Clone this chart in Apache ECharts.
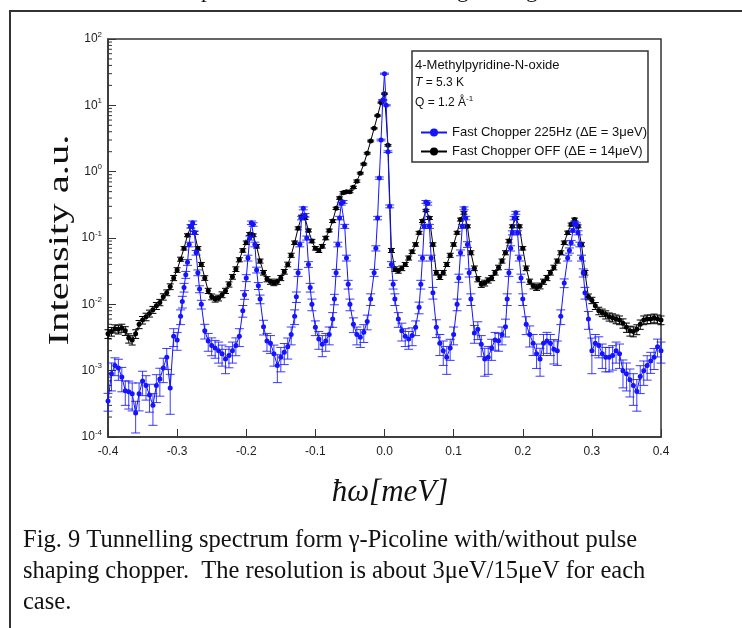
<!DOCTYPE html>
<html>
<head>
<meta charset="utf-8">
<script src="https://cdn.jsdelivr.net/npm/echarts@6/dist/echarts.min.js"></script>
<style>
  html, body { margin: 0; padding: 0; background: #fff; }
  #chart { width: 742px; height: 628px; }
</style>
</head>
<body>
<div id="chart"></div>
<script>
/* ── data ── */

// Fast Chopper 225Hz (blue): energy, intensity, relative error
const energyOn = [
  -0.400, -0.395, -0.390, -0.385, -0.380, -0.375, -0.370, -0.365, -0.360, -0.355,
  -0.350, -0.345, -0.340, -0.335, -0.330, -0.325, -0.320, -0.315, -0.310, -0.305,
  -0.300, -0.295, -0.2925, -0.290, -0.2875, -0.285, -0.2825, -0.280, -0.2775, -0.275,
  -0.2725, -0.270, -0.2675, -0.265, -0.260, -0.255, -0.250, -0.245, -0.240, -0.235,
  -0.230, -0.225, -0.220, -0.215, -0.210, -0.205, -0.2025, -0.200, -0.1975, -0.195,
  -0.1925, -0.190, -0.1875, -0.185, -0.1825, -0.180, -0.175, -0.170, -0.165, -0.160,
  -0.155, -0.150, -0.145, -0.140, -0.135, -0.130, -0.1275, -0.125, -0.1225, -0.120,
  -0.1175, -0.115, -0.1125, -0.110, -0.1075, -0.105, -0.100, -0.095, -0.090, -0.085,
  -0.080, -0.075, -0.0725, -0.070, -0.0675, -0.065, -0.0625, -0.060, -0.0575, -0.055,
  -0.0525, -0.050, -0.045, -0.040, -0.035, -0.030, -0.025, -0.020, -0.015, -0.0125,
  -0.010, -0.0075, -0.005, -0.0025, 0.000, 0.0025, 0.005, 0.0075, 0.010, 0.0125,
  0.015, 0.020, 0.025, 0.030, 0.035, 0.040, 0.045, 0.050, 0.0525, 0.055,
  0.0575, 0.060, 0.0625, 0.065, 0.0675, 0.070, 0.075, 0.080, 0.085, 0.090,
  0.095, 0.100, 0.105, 0.1075, 0.110, 0.1125, 0.115, 0.1175, 0.120, 0.1225,
  0.125, 0.130, 0.135, 0.140, 0.145, 0.150, 0.155, 0.160, 0.165, 0.170,
  0.175, 0.1775, 0.180, 0.1825, 0.185, 0.1875, 0.190, 0.1925, 0.195, 0.1975,
  0.200, 0.205, 0.210, 0.215, 0.220, 0.225, 0.230, 0.235, 0.240, 0.245,
  0.250, 0.255, 0.260, 0.265, 0.2675, 0.270, 0.2725, 0.275, 0.2775, 0.280,
  0.2825, 0.285, 0.2875, 0.290, 0.295, 0.300, 0.305, 0.310, 0.315, 0.320,
  0.325, 0.330, 0.335, 0.340, 0.345, 0.350, 0.355, 0.360, 0.365, 0.370,
  0.375, 0.380, 0.385, 0.390, 0.395, 0.400
];
const chopperOn = [
  0.00035, 0.0009, 0.0012, 0.0011, 0.0008, 0.0005, 0.00048, 0.00045, 0.00023, 0.00045,
  0.0007, 0.0006, 0.00043, 0.0003, 0.0006, 0.00075, 0.0011, 0.0016, 0.00055, 0.0033,
  0.0029, 0.0066, 0.011, 0.018, 0.028, 0.043, 0.08, 0.15, 0.17, 0.12,
  0.06, 0.03, 0.017, 0.01, 0.004, 0.0028, 0.0024, 0.0022, 0.002, 0.0018,
  0.0015, 0.0017, 0.002, 0.0024, 0.0033, 0.008, 0.014, 0.025, 0.05, 0.1,
  0.17, 0.16, 0.08, 0.033, 0.019, 0.012, 0.0046, 0.0028, 0.0026, 0.0018,
  0.0012, 0.0016, 0.0019, 0.0023, 0.0035, 0.0066, 0.013, 0.03, 0.08, 0.2,
  0.28, 0.22, 0.1, 0.04, 0.018, 0.01, 0.0045, 0.003, 0.0025, 0.0028,
  0.0035, 0.006, 0.012, 0.03, 0.08, 0.2, 0.33, 0.35, 0.15, 0.05,
  0.02, 0.01, 0.005, 0.0035, 0.0032, 0.0038, 0.0055, 0.012, 0.03, 0.07,
  0.2, 0.8, 3, 12, 30, 10, 2, 0.3, 0.04, 0.02,
  0.012, 0.006, 0.004, 0.0033, 0.003, 0.0034, 0.0045, 0.009, 0.02, 0.05,
  0.15, 0.35, 0.33, 0.15, 0.05, 0.015, 0.0045, 0.0026, 0.002, 0.0016,
  0.0022, 0.0035, 0.01, 0.025, 0.06, 0.15, 0.28, 0.2, 0.08, 0.03,
  0.012, 0.0037, 0.0042, 0.0025, 0.0015, 0.0016, 0.0022, 0.0029, 0.0028, 0.0035,
  0.0046, 0.012, 0.03, 0.07, 0.12, 0.2, 0.24, 0.12, 0.05, 0.025,
  0.012, 0.005, 0.0035, 0.0026, 0.0018, 0.0015, 0.0026, 0.0028, 0.0026, 0.0021,
  0.002, 0.0066, 0.021, 0.05, 0.065, 0.085, 0.13, 0.17, 0.16, 0.12,
  0.08, 0.05, 0.03, 0.015, 0.006, 0.002, 0.0026, 0.0024, 0.0018, 0.0016,
  0.0016, 0.0017, 0.002, 0.0018, 0.001, 0.0009, 0.00073, 0.0006, 0.00049, 0.00082,
  0.001, 0.0012, 0.0014, 0.0016, 0.0023, 0.002
];
const chopperOnErr = [
  0.3, 0.45, 0.3, 0.35, 0.4, 0.4, 0.45, 0.45, 0.5, 0.45,
  0.4, 0.4, 0.45, 0.5, 0.45, 0.45, 0.4, 0.35, 0.6, 0.3,
  0.3, 0.25, 0.2, 0.15, 0.12, 0.1, 0.08, 0.06, 0.06, 0.06,
  0.08, 0.1, 0.12, 0.15, 0.25, 0.3, 0.3, 0.3, 0.35, 0.35,
  0.4, 0.35, 0.35, 0.3, 0.3, 0.2, 0.15, 0.12, 0.1, 0.07,
  0.06, 0.06, 0.08, 0.1, 0.12, 0.15, 0.25, 0.3, 0.3, 0.35,
  0.45, 0.4, 0.35, 0.35, 0.3, 0.25, 0.18, 0.12, 0.08, 0.06,
  0.05, 0.06, 0.07, 0.1, 0.15, 0.2, 0.25, 0.3, 0.35, 0.3,
  0.3, 0.25, 0.18, 0.12, 0.08, 0.06, 0.05, 0.05, 0.07, 0.1,
  0.15, 0.2, 0.25, 0.3, 0.3, 0.3, 0.25, 0.2, 0.12, 0.09,
  0.06, 0.04, 0.03, 0.02, 0.02, 0.02, 0.03, 0.05, 0.1, 0.15,
  0.2, 0.25, 0.3, 0.3, 0.3, 0.3, 0.25, 0.2, 0.15, 0.1,
  0.07, 0.05, 0.05, 0.07, 0.1, 0.2, 0.3, 0.35, 0.4, 0.45,
  0.35, 0.3, 0.2, 0.14, 0.1, 0.07, 0.05, 0.06, 0.1, 0.14,
  0.2, 0.3, 0.3, 0.35, 0.45, 0.45, 0.35, 0.3, 0.3, 0.3,
  0.3, 0.2, 0.12, 0.09, 0.07, 0.06, 0.05, 0.07, 0.1, 0.14,
  0.2, 0.3, 0.35, 0.35, 0.4, 0.45, 0.35, 0.35, 0.35, 0.4,
  0.4, 0.25, 0.15, 0.1, 0.09, 0.08, 0.06, 0.05, 0.06, 0.07,
  0.08, 0.1, 0.14, 0.2, 0.3, 0.55, 0.35, 0.35, 0.4, 0.4,
  0.4, 0.4, 0.35, 0.4, 0.45, 0.45, 0.45, 0.5, 0.5, 0.45,
  0.4, 0.4, 0.35, 0.35, 0.3, 0.35
];

// Fast Chopper OFF (black): energy, intensity, relative error
const energyOff = [
  -0.400, -0.395, -0.390, -0.385, -0.380, -0.375, -0.370, -0.365, -0.360, -0.355,
  -0.350, -0.345, -0.340, -0.335, -0.330, -0.325, -0.320, -0.315, -0.310, -0.305,
  -0.300, -0.295, -0.290, -0.285, -0.280, -0.275, -0.270, -0.265, -0.260, -0.255,
  -0.250, -0.245, -0.240, -0.235, -0.230, -0.225, -0.220, -0.215, -0.210, -0.205,
  -0.200, -0.195, -0.190, -0.185, -0.180, -0.175, -0.170, -0.165, -0.160, -0.155,
  -0.150, -0.145, -0.140, -0.135, -0.130, -0.125, -0.120, -0.115, -0.110, -0.105,
  -0.100, -0.095, -0.090, -0.085, -0.080, -0.075, -0.070, -0.065, -0.060, -0.055,
  -0.050, -0.045, -0.040, -0.035, -0.030, -0.025, -0.020, -0.015, -0.010, -0.005,
  0.000, 0.005, 0.010, 0.015, 0.020, 0.025, 0.030, 0.035, 0.040, 0.045,
  0.050, 0.055, 0.060, 0.065, 0.070, 0.075, 0.080, 0.085, 0.090, 0.095,
  0.100, 0.105, 0.110, 0.115, 0.120, 0.125, 0.130, 0.135, 0.140, 0.145,
  0.150, 0.155, 0.160, 0.165, 0.170, 0.175, 0.180, 0.185, 0.190, 0.195,
  0.200, 0.205, 0.210, 0.215, 0.220, 0.225, 0.230, 0.235, 0.240, 0.245,
  0.250, 0.255, 0.260, 0.265, 0.270, 0.275, 0.280, 0.285, 0.290, 0.295,
  0.300, 0.305, 0.310, 0.315, 0.320, 0.325, 0.330, 0.335, 0.340, 0.345,
  0.350, 0.355, 0.360, 0.365, 0.370, 0.375, 0.380, 0.385, 0.390, 0.395,
  0.400
];
const chopperOff = [
  0.0036, 0.0039, 0.0043, 0.0042, 0.0044, 0.0040, 0.0031, 0.0029, 0.0036, 0.0050,
  0.0058, 0.0065, 0.0073, 0.0083, 0.0095, 0.0107, 0.013, 0.015, 0.0185, 0.025,
  0.033, 0.048, 0.07, 0.11, 0.15, 0.12, 0.07, 0.04, 0.025, 0.016,
  0.013, 0.012, 0.0125, 0.014, 0.016, 0.02, 0.026, 0.034, 0.047, 0.065,
  0.085, 0.115, 0.11, 0.075, 0.045, 0.03, 0.024, 0.022, 0.021, 0.022,
  0.025, 0.031, 0.04, 0.055, 0.085, 0.14, 0.21, 0.2, 0.13, 0.09,
  0.07, 0.065, 0.075, 0.1, 0.13, 0.18, 0.28, 0.4, 0.48, 0.5,
  0.5, 0.58, 0.72, 0.95, 1.3, 1.9, 2.9, 4.5, 7, 11,
  15, 2.5, 0.065, 0.034, 0.032, 0.035, 0.04, 0.05, 0.062, 0.08,
  0.12, 0.18, 0.26, 0.2, 0.08, 0.03, 0.026, 0.03, 0.04, 0.055,
  0.08, 0.12, 0.19, 0.24, 0.15, 0.06, 0.035, 0.024, 0.02, 0.021,
  0.023, 0.025, 0.03, 0.036, 0.045, 0.06, 0.09, 0.15, 0.2, 0.15,
  0.07, 0.035, 0.022, 0.019, 0.018, 0.019, 0.022, 0.025, 0.03, 0.036,
  0.045, 0.06, 0.085, 0.12, 0.16, 0.19, 0.15, 0.08, 0.03, 0.013,
  0.0115, 0.0095, 0.008, 0.0075, 0.007, 0.0065, 0.0063, 0.006, 0.0058, 0.0052,
  0.0045, 0.004, 0.0039, 0.0042, 0.005, 0.0058, 0.006, 0.006, 0.0062, 0.006,
  0.0058
];
const chopperOffErr = [
  0.15, 0.15, 0.14, 0.15, 0.14, 0.15, 0.16, 0.16, 0.15, 0.14,
  0.13, 0.13, 0.12, 0.12, 0.12, 0.11, 0.11, 0.1, 0.1, 0.09,
  0.08, 0.07, 0.06, 0.05, 0.05, 0.05, 0.06, 0.07, 0.08, 0.09,
  0.1, 0.1, 0.1, 0.1, 0.09, 0.09, 0.08, 0.08, 0.07, 0.06,
  0.06, 0.05, 0.05, 0.06, 0.07, 0.08, 0.09, 0.09, 0.09, 0.09,
  0.09, 0.08, 0.08, 0.07, 0.06, 0.05, 0.05, 0.05, 0.05, 0.06,
  0.06, 0.07, 0.06, 0.06, 0.05, 0.05, 0.04, 0.04, 0.04, 0.04,
  0.04, 0.04, 0.04, 0.03, 0.03, 0.03, 0.03, 0.02, 0.02, 0.02,
  0.02, 0.03, 0.07, 0.08, 0.08, 0.08, 0.07, 0.07, 0.06, 0.06,
  0.05, 0.05, 0.04, 0.05, 0.06, 0.08, 0.09, 0.08, 0.07, 0.07,
  0.06, 0.05, 0.05, 0.05, 0.05, 0.07, 0.08, 0.09, 0.1, 0.1,
  0.09, 0.09, 0.08, 0.08, 0.07, 0.07, 0.06, 0.05, 0.05, 0.05,
  0.06, 0.08, 0.09, 0.1, 0.1, 0.1, 0.09, 0.09, 0.08, 0.08,
  0.07, 0.07, 0.06, 0.06, 0.05, 0.05, 0.05, 0.06, 0.08, 0.1,
  0.11, 0.12, 0.13, 0.13, 0.14, 0.14, 0.14, 0.15, 0.15, 0.16,
  0.16, 0.17, 0.17, 0.17, 0.16, 0.15, 0.15, 0.15, 0.15, 0.15,
  0.15
];

const NAME_ON = "Fast Chopper 225Hz (\u0394E = 3\u03bceV)";
const NAME_OFF = "Fast Chopper OFF (\u0394E = 14\u03bceV)";
const BLUE = "#1414ff";
const BLUE_ERR = "rgba(25,25,255,0.85)";
const BLACK = "#000";

const SANS = '"Liberation Sans", Arial, sans-serif';
const SERIF = '"Liberation Serif", "Times New Roman", serif';

/* ── helpers ── */
const pairs = (xs, vals) => xs.map((x, i) => [x, vals[i]]);
const errRows = (xs, vals, errs) => xs.map((x, i) => [x, vals[i] * (1 - errs[i]), vals[i] * (1 + errs[i])]);

function errorBars(color, cap) {
  return function (params, api) {
    const x = api.value(0);
    const top = api.coord([x, api.value(2)]);
    const bot = api.coord([x, api.value(1)]);
    const st = { stroke: color, lineWidth: 1 };
    return {
      type: "group",
      children: [
        { type: "line", shape: { x1: top[0], y1: top[1], x2: bot[0], y2: bot[1] }, style: st },
        { type: "line", shape: { x1: top[0] - cap, y1: top[1], x2: top[0] + cap, y2: top[1] }, style: st },
        { type: "line", shape: { x1: bot[0] - cap, y1: bot[1], x2: bot[0] + cap, y2: bot[1] }, style: st },
      ],
    };
  };
}

// log-spaced minor ticks on the intensity axis (2..9 x 10^n)
const minorTicks = [];
for (let e = -4; e < 2; e++) for (let m = 2; m <= 9; m++) minorTicks.push([-0.4, m * Math.pow(10, e)]);

const chart = echarts.init(document.getElementById("chart"));

chart.setOption({
  animation: false,
  backgroundColor: "#fff",
  grid: { left: 108, right: 81, top: 39, bottom: 191, show: true, borderColor: "#333", borderWidth: 1.5 },
  legend: {
    data: [NAME_ON, NAME_OFF],
    orient: "vertical",
    left: 415, top: 121, z: 20,
    itemWidth: 26, itemHeight: 10, itemGap: 6,
    selectedMode: false,
    textStyle: { fontFamily: SANS, fontSize: 13, color: "#111" },
  },
  xAxis: {
    type: "value", min: -0.4, max: 0.4, interval: 0.1,
    axisLine: { show: true, onZero: false, lineStyle: { color: "#333", width: 1.5 } },
    axisTick: { inside: true, length: 8, lineStyle: { color: "#333" } },
    axisLabel: { fontFamily: SANS, fontSize: 12, color: "#222", margin: 9, formatter: (v) => v.toFixed(1) },
    splitLine: { show: false },
  },
  yAxis: {
    type: "log", logBase: 10, min: 1e-4, max: 100, interval: 1,
    axisLine: { show: true, onZero: false, lineStyle: { color: "#333", width: 1.5 } },
    axisTick: { inside: true, length: 8, lineStyle: { color: "#333" } },
    axisLabel: {
      margin: 6,
      formatter: (v) => "{b|10}{s|" + Math.round(Math.log10(v)) + "}",
      rich: {
        b: { fontFamily: SANS, fontSize: 12, color: "#222" },
        s: { fontFamily: SANS, fontSize: 8, color: "#222", padding: [0, 0, 9, 0] },
      },
    },
    splitLine: { show: false },
  },
  series: [
    {
      type: "custom", silent: true, z: 1,
      renderItem: (params, api) => {
        const p = api.coord([api.value(0), api.value(1)]);
        return { type: "line", shape: { x1: p[0], y1: p[1], x2: p[0] + 4, y2: p[1] }, style: { stroke: "#333", lineWidth: 1 } };
      },
      encode: { x: 0, y: 1 },
      data: minorTicks,
    },
    {
      name: NAME_OFF, type: "line", z: 2,
      data: pairs(energyOff, chopperOff),
      symbol: "circle", symbolSize: 5, showAllSymbol: true,
      itemStyle: { color: BLACK },
      lineStyle: { color: BLACK, width: 1 },
    },
    {
      type: "custom", silent: true, z: 2,
      renderItem: errorBars(BLACK, 3.5),
      encode: { x: 0, y: [1, 2] },
      data: errRows(energyOff, chopperOff, chopperOffErr),
    },
    {
      name: NAME_ON, type: "line", z: 3,
      data: pairs(energyOn, chopperOn),
      symbol: "circle", symbolSize: 5, showAllSymbol: true,
      itemStyle: { color: BLUE },
      lineStyle: { color: BLUE, width: 1 },
    },
    {
      type: "custom", silent: true, z: 3,
      renderItem: errorBars(BLUE_ERR, 4.5),
      encode: { x: 0, y: [1, 2] },
      data: errRows(energyOn, chopperOn, chopperOnErr),
    },
  ],
  graphic: [
    // page frame (runs past the right and bottom edges)
    { type: "rect", shape: { x: 10, y: 11, width: 800, height: 700 }, style: { fill: "none", stroke: "#333", lineWidth: 2 }, z: 0 },
    // descenders of the clipped line above
    { type: "text", x: 201, y: -9, style: { text: "p", font: '23px ' + SERIF, fill: "#111", verticalAlign: "middle" } },
    { type: "text", x: 457, y: -9, style: { text: "g", font: '23px ' + SERIF, fill: "#111", verticalAlign: "middle" } },
    { type: "text", x: 526, y: -9, style: { text: "g", font: '23px ' + SERIF, fill: "#111", verticalAlign: "middle" } },
    // legend box
    { type: "rect", shape: { x: 412, y: 51, width: 236, height: 111 }, style: { fill: "#fff", stroke: "#333", lineWidth: 1.5 }, z: 10 },
    { type: "text", x: 415, y: 65, z: 11, style: { text: "4-Methylpyridine-N-oxide", font: '13px ' + SANS, fill: "#111", verticalAlign: "middle" } },
    {
      type: "text", x: 415, y: 83, z: 11,
      style: {
        text: "{i|T} = 5.3 K", verticalAlign: "middle",
        rich: { i: { fontFamily: SANS, fontSize: 12, fontStyle: "italic", fill: "#111" } },
        font: '12px ' + SANS, fill: "#111",
      },
    },
    {
      type: "text", x: 415, y: 103, z: 11,
      style: {
        text: "Q = 1.2 \u00c5{s|-1}", verticalAlign: "middle",
        rich: { s: { fontFamily: SANS, fontSize: 8, fill: "#111", padding: [0, 0, 9, 0] } },
        font: '12px ' + SANS, fill: "#111",
      },
    },
    // axis titles
    { type: "text", x: 60, y: 240, rotation: Math.PI / 2, scaleX: 1.4, style: { text: "Intensity a.u.", font: '29px ' + SERIF, fill: "#111", align: "center", verticalAlign: "middle" } },
    { type: "text", x: 390, y: 493, style: { text: "\u0127\u03c9[meV]", font: 'italic 31px ' + SERIF, fill: "#111", align: "center", verticalAlign: "middle" } },
    // caption
    { type: "text", x: 23, y: 541, style: { text: "Fig. 9 Tunnelling spectrum form \u03b3-Picoline with/without pulse", font: '24.5px ' + SERIF, fill: "#111", verticalAlign: "middle" } },
    { type: "text", x: 23, y: 572, style: { text: "shaping chopper.  The resolution is about 3\u03bceV/15\u03bceV for each", font: '24.5px ' + SERIF, fill: "#111", verticalAlign: "middle" } },
    { type: "text", x: 23, y: 603, style: { text: "case.", font: '24.5px ' + SERIF, fill: "#111", verticalAlign: "middle" } },
  ],
});
</script>
</body>
</html>
